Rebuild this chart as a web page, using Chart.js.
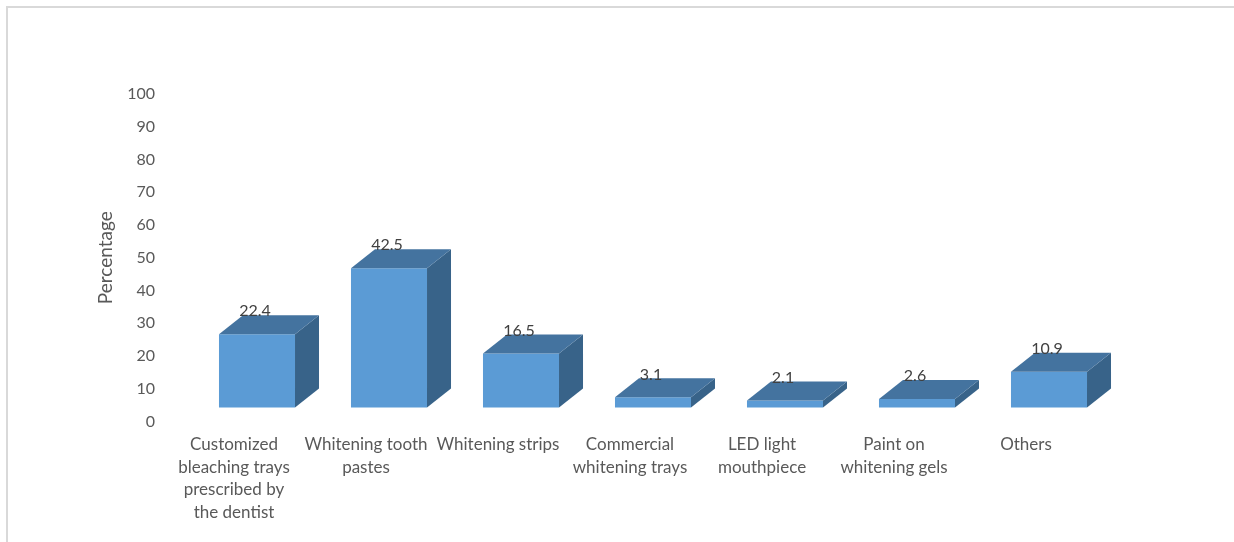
<!DOCTYPE html>
<html>
<head>
<meta charset="utf-8">
<script src="https://cdn.jsdelivr.net/npm/chart.js@4.4.1/dist/chart.umd.min.js"></script>
<style>
    body { margin: 0; background: #ffffff; }
    #wrap { position: relative; width: 1234px; height: 542px; overflow: hidden; }
    #frame {
        position: absolute; left: 6px; top: 6px; width: 1240px; height: 560px;
        border-left: 2px solid #d9d9d9; border-top: 2px solid #d9d9d9;
    }
    #barChart { position: absolute; left: 0; top: 0; }
</style>
</head>
<body>
<div id="wrap">
    <div id="frame"></div>
    <canvas id="barChart" width="1234" height="542"></canvas>
</div>
<script>
// 카테고리 (x축 라벨, 줄바꿈 포함)
const categories = [
    ['Customized', 'bleaching trays', 'prescribed by', 'the dentist'],
    ['Whitening tooth', 'pastes'],
    ['Whitening strips'],
    ['Commercial', 'whitening trays'],
    ['LED light', 'mouthpiece'],
    ['Paint on', 'whitening gels'],
    ['Others']
];

// 값 (%)
const percentages = [22.4, 42.5, 16.5, 3.1, 2.1, 2.6, 10.9];

// y축 범위
const yMin = 0;
const yMax = 100;
const yStep = 10;

// 3D 효과 설정
const frontColor = '#5b9bd5';
const topColor = '#44739f';
const sideColor = '#386389';
const depthX = 24;
const depthY = 19;
const floorShift = 14;

// 3D 막대 플러그인
const bar3d = {
    id: 'bar3d',
    beforeDatasetsDraw(chart) {
        chart.ctx.save();
        chart.ctx.translate(0, -floorShift);
    },
    afterDatasetsDraw(chart) {
        const ctx = chart.ctx;
        const meta = chart.getDatasetMeta(0);
        meta.data.forEach(bar => {
            const p = bar.getProps(['x', 'y', 'base', 'width'], true);
            const left = p.x - p.width / 2;
            const right = p.x + p.width / 2;
            // 옆면
            ctx.fillStyle = sideColor;
            ctx.beginPath();
            ctx.moveTo(right, p.y);
            ctx.lineTo(right + depthX, p.y - depthY);
            ctx.lineTo(right + depthX, p.base - depthY);
            ctx.lineTo(right, p.base);
            ctx.closePath();
            ctx.fill();
            // 윗면
            ctx.fillStyle = topColor;
            ctx.beginPath();
            ctx.moveTo(left, p.y);
            ctx.lineTo(left + depthX, p.y - depthY);
            ctx.lineTo(right + depthX, p.y - depthY);
            ctx.lineTo(right, p.y);
            ctx.closePath();
            ctx.fill();
        });
        // 데이터 라벨
        ctx.fillStyle = '#404040';
        ctx.font = '16px Lato';
        ctx.textAlign = 'center';
        ctx.textBaseline = 'middle';
        meta.data.forEach((bar, i) => {
            ctx.fillText(String(percentages[i]), bar.x - 2, bar.y - 23);
        });
        ctx.restore();
    }
};

const ctx = document.getElementById('barChart').getContext('2d');
new Chart(ctx, {
    type: 'bar',
    data: {
        labels: categories,
        datasets: [{
            data: percentages,
            backgroundColor: frontColor,
            borderWidth: 0,
            categoryPercentage: 1,
            barPercentage: 0.576,
            clip: false
        }]
    },
    options: {
        responsive: false,
        animation: false,
        layout: {
            padding: { left: 0, right: 119, top: 94, bottom: 0 }
        },
        plugins: {
            legend: { display: false },
            tooltip: { enabled: false }
        },
        scales: {
            x: {
                grid: { display: false, drawTicks: false },
                border: { display: false },
                ticks: {
                    color: '#595959',
                    font: { family: 'Lato', size: 17, lineHeight: 1.32 },
                    padding: 12,
                    labelOffset: -23,
                    autoSkip: false,
                    maxRotation: 0
                },
                afterFit(scale) { scale.height = 120.5; }
            },
            y: {
                min: yMin,
                max: yMax,
                grid: { display: false, drawTicks: false },
                border: { display: false },
                ticks: {
                    stepSize: yStep,
                    color: '#595959',
                    font: { family: 'Lato', size: 16 },
                    padding: 36
                },
                title: {
                    display: true,
                    text: 'Percentage',
                    color: '#595959',
                    font: { family: 'Lato', size: 19 },
                    padding: { top: 94, bottom: 0 }
                },
                afterFit(scale) { scale.width = 191; }
            }
        }
    },
    plugins: [bar3d]
});
</script>
</body>
</html>
